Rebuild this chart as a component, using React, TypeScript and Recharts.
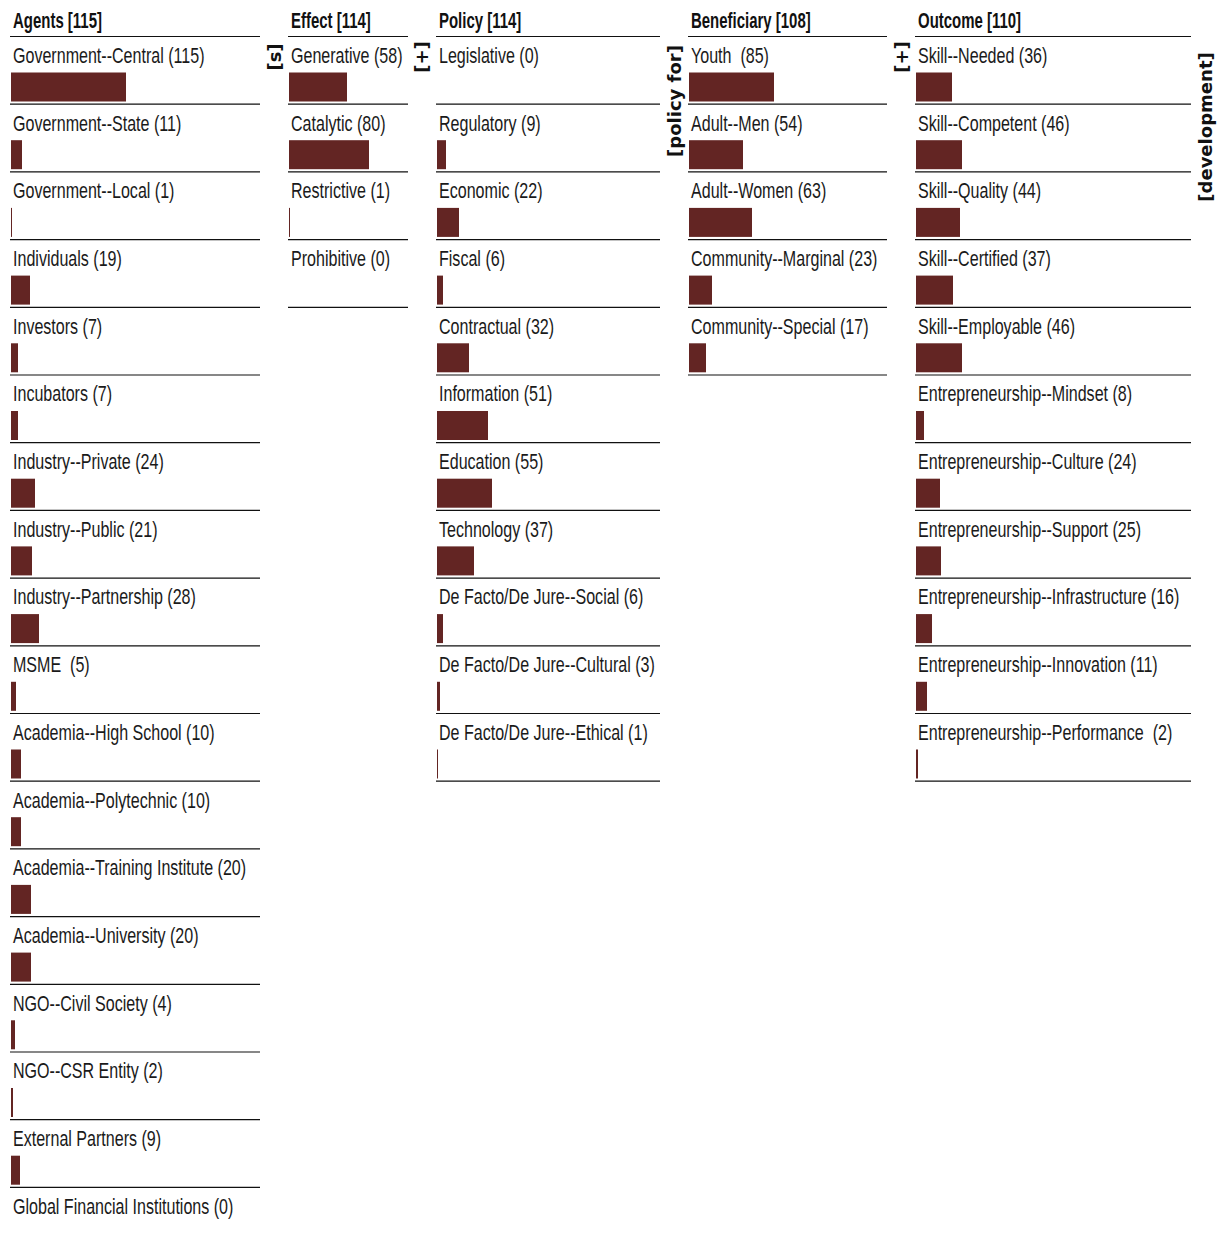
import React from "react";
import { BarChart, Bar, XAxis, YAxis } from "recharts";

const agentNames = [
  "Government--Central", "Government--State", "Government--Local", "Individuals", "Investors",
  "Incubators", "Industry--Private", "Industry--Public", "Industry--Partnership", "MSME ",
  "Academia--High School", "Academia--Polytechnic", "Academia--Training Institute",
  "Academia--University", "NGO--Civil Society", "NGO--CSR Entity", "External Partners",
  "Global Financial Institutions",
];
const agentValues = [115, 11, 1, 19, 7, 7, 24, 21, 28, 5, 10, 10, 20, 20, 4, 2, 9, 0];

const effectNames = ["Generative", "Catalytic", "Restrictive", "Prohibitive"];
const effectValues = [58, 80, 1, 0];

const policyNames = [
  "Legislative", "Regulatory", "Economic", "Fiscal", "Contractual", "Information", "Education",
  "Technology", "De Facto/De Jure--Social", "De Facto/De Jure--Cultural", "De Facto/De Jure--Ethical",
];
const policyValues = [0, 9, 22, 6, 32, 51, 55, 37, 6, 3, 1];

const beneficiaryNames = ["Youth ", "Adult--Men", "Adult--Women", "Community--Marginal", "Community--Special"];
const beneficiaryValues = [85, 54, 63, 23, 17];

const outcomeNames = [
  "Skill--Needed", "Skill--Competent", "Skill--Quality", "Skill--Certified", "Skill--Employable",
  "Entrepreneurship--Mindset", "Entrepreneurship--Culture", "Entrepreneurship--Support",
  "Entrepreneurship--Infrastructure", "Entrepreneurship--Innovation", "Entrepreneurship--Performance ",
];
const outcomeValues = [36, 46, 44, 37, 46, 8, 24, 25, 16, 11, 2];

const headers = ["Agents [115]", "Effect [114]", "Policy [114]", "Beneficiary [108]", "Outcome [110]"];

const ROW_H = 67.7;
const TOP_LINE = 36.5;
const BAR_COLOR = "#632523";
const TEXT_FONT = "'Liberation Sans', Arial, sans-serif";
const BOLD_FONT = "'DejaVu Sans', Verdana, sans-serif";

type Col = { header: string; names: string[]; values: number[]; left: number; width: number };

const columns: Col[] = [
  { header: headers[0], names: agentNames, values: agentValues, left: 10, width: 250 },
  { header: headers[1], names: effectNames, values: effectValues, left: 288, width: 120 },
  { header: headers[2], names: policyNames, values: policyValues, left: 436, width: 224 },
  { header: headers[3], names: beneficiaryNames, values: beneficiaryValues, left: 688, width: 199 },
  { header: headers[4], names: outcomeNames, values: outcomeValues, left: 915, width: 276 },
];

const MARGIN_TOP = 1.5;

function makeTick(width: number) {
  return function Tick(props: any) {
    const { y, payload, index } = props;
    const bottom = y + ROW_H / 2;
    const top = y - ROW_H / 2;
    return (
      <g>
        {index === 0 && <line x1={0} x2={width} y1={top} y2={top} stroke="#111" strokeWidth={1.2} />}
        <text
          x={0}
          y={0}
          transform={`translate(3, ${y - 7.5}) scale(0.73, 1)`}
          fontFamily={TEXT_FONT}
          fontSize={22}
          fill="#1a1a1a"
          style={{ whiteSpace: "pre" }}
        >
          {payload.value}
        </text>
        <line x1={0} x2={width} y1={bottom} y2={bottom} stroke="#111" strokeWidth={1.2} />
      </g>
    );
  };
}

function BarShape(props: any) {
  const { x, y, width, height, fill } = props;
  if (!width || width <= 0) return null;
  return <rect x={x} y={y + 17} width={width} height={height} fill={fill} />;
}

function Column({ col }: { col: Col }) {
  const data = col.names.map((n, i) => ({ label: `${n} (${col.values[i]})`, value: col.values[i] }));
  const h = MARGIN_TOP + data.length * ROW_H + 1.5;
  const Tick = makeTick(col.width);
  return (
    <>
      <div
        style={{
          position: "absolute",
          left: col.left + 3,
          top: 10,
          fontFamily: TEXT_FONT,
          fontWeight: "bold",
          fontSize: 22,
          lineHeight: "22px",
          color: "#111",
          whiteSpace: "pre",
          transform: "scale(0.68, 1)",
          transformOrigin: "0 0",
        }}
      >
        {col.header}
      </div>
      <div style={{ position: "absolute", left: col.left, top: TOP_LINE - MARGIN_TOP }}>
        <BarChart
          width={col.width}
          height={h}
          data={data}
          layout="vertical"
          margin={{ top: MARGIN_TOP, right: 0, bottom: 1.5, left: 0 }}
          barCategoryGap={0}
        >
          <XAxis type="number" domain={[0, col.width - 1]} hide allowDataOverflow />
          <YAxis
            type="category"
            dataKey="label"
            width={1}
            axisLine={false}
            tickLine={false}
            tickSize={0}
            tickMargin={0}
            interval={0}
            tick={<Tick />}
          />
          <Bar dataKey="value" fill={BAR_COLOR} barSize={29} isAnimationActive={false} shape={<BarShape />} />
        </BarChart>
      </div>
    </>
  );
}

const sideLabels = [
  { text: "[s]", cx: 275, cy: 57 },
  { text: "[+]", cx: 422, cy: 57 },
  { text: "[policy for]", cx: 675, cy: 101 },
  { text: "[+]", cx: 902, cy: 57 },
  { text: "[development]", cx: 1206, cy: 127 },
];

export default function App() {
  return (
    <div style={{ position: "fixed", left: 0, top: 0, width: 1220, height: 1249, overflow: "hidden", background: "#fff" }}>
      <style>{`.recharts-surface{overflow:visible}.recharts-wrapper{overflow:visible}`}</style>
      {columns.map((c) => (
        <Column key={c.header} col={c} />
      ))}
      {sideLabels.map((s, i) => (
        <div
          key={i}
          style={{
            position: "absolute",
            left: s.cx,
            top: s.cy,
            transform: "translate(-50%, -50%) rotate(-90deg) scale(1.06, 1)",
            fontFamily: BOLD_FONT,
            fontWeight: "bold",
            fontSize: 17,
            lineHeight: "17px",
            color: "#111",
            whiteSpace: "nowrap",
          }}
        >
          {s.text}
        </div>
      ))}
    </div>
  );
}
